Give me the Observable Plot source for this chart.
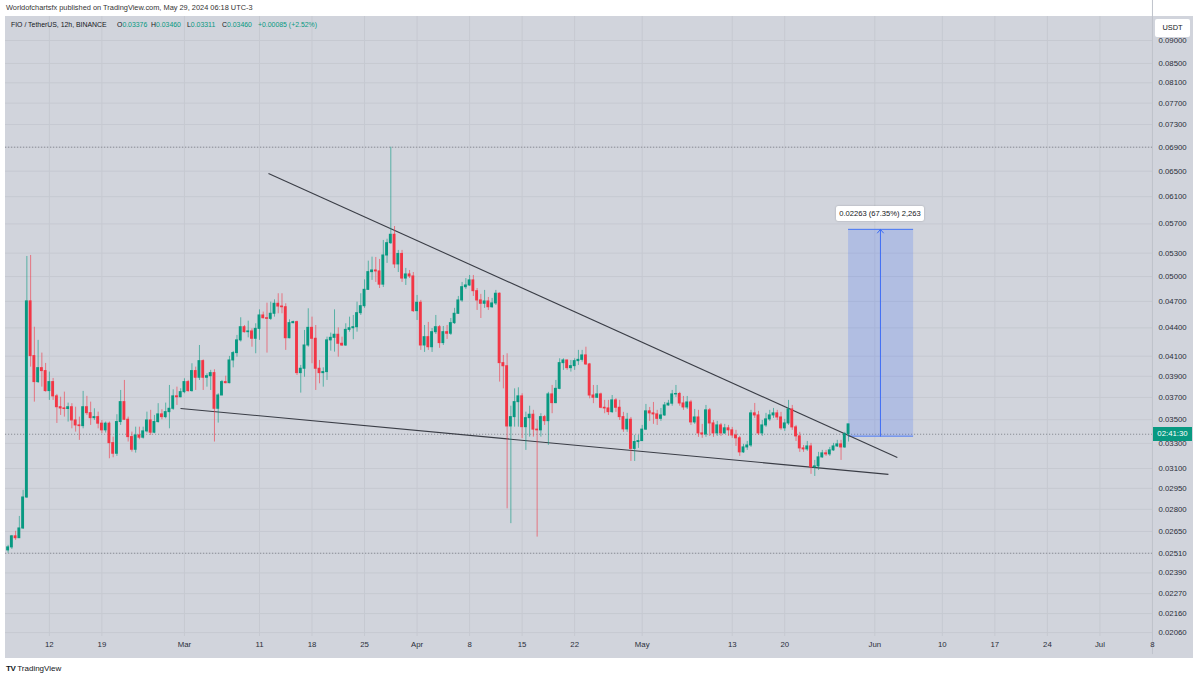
<!DOCTYPE html>
<html><head><meta charset="utf-8">
<script src="https://cdn.jsdelivr.net/npm/d3@7"></script>
<script src="https://cdn.jsdelivr.net/npm/@observablehq/plot@0.6"></script>
<style>
body{margin:0;background:#fff;font-family:"Liberation Sans",Arial,sans-serif;}
#page{position:relative;width:1200px;height:680px;overflow:hidden;background:#fff;}
#pub{position:absolute;left:6px;top:3px;font-size:7.4px;color:#333;white-space:nowrap;}
#chartwrap{position:absolute;left:5px;top:16px;width:1188px;height:642px;background:#d1d4dc;}
.lg{position:absolute;top:20.5px;font-size:6.9px;color:#131722;white-space:nowrap;}
.g{color:#089981}
#footer{position:absolute;left:6px;top:664px;font-size:8px;color:#131722;white-space:nowrap;}
#footer b{font-weight:900;letter-spacing:-0.5px;margin-right:2px;}
.ov{position:absolute;white-space:nowrap;box-sizing:border-box;text-align:center;}
</style></head><body><div id="page">
<div id="pub">Worldofchartsfx published on TradingView.com, May 29, 2024 06:18 UTC-3</div>
<div id="chartwrap"></div>
<div class="lg" style="left:11px">FIO / TetherUS, 12h, BINANCE</div>
<div class="lg" style="left:117px">O<span class="g">0.03376</span></div>
<div class="lg" style="left:151px">H<span class="g">0.03460</span></div>
<div class="lg" style="left:187px">L<span class="g">0.03311</span></div>
<div class="lg" style="left:222px">C<span class="g">0.03460</span></div>
<div class="lg g" style="left:258px">+0.00085 (+2.52%)</div>
<div id="footer"><b>TV</b>TradingView</div>
</div>
<script>
// ---- data ----
const firstBarUTC = "2024-02-07T00:00:00Z";   // 12h bars
const firstOpen = 0.02528;
const closes = [
0.02547,0.02618,0.02606,0.0267,0.02884,0.0470,0.04101,0.03844,0.0398,0.03951,
0.03759,0.03844,0.0371,0.03611,0.036,0.03595,0.03611,0.03494,0.03451,0.03445,
0.03611,0.03558,0.03514,0.03523,0.03466,0.03409,0.03466,0.03302,0.03216,0.0348,
0.03657,0.035,0.03352,0.03248,0.03366,0.03347,0.034,0.03494,0.03389,0.0348,
0.03547,0.03523,0.03567,0.03597,0.0371,0.03702,0.03749,0.03844,0.03759,0.03951,
0.03886,0.0405,0.03886,0.03901,0.03931,0.03597,0.03718,0.03844,0.03834,0.04057,
0.04132,0.04265,0.04407,0.04353,0.04361,0.04282,0.04389,0.04538,0.04507,0.045,
0.04557,0.04672,0.0464,0.04632,0.04288,0.04452,0.04463,0.03931,0.03974,0.04211,
0.044,0.04282,0.03974,0.03931,0.03941,0.04265,0.04292,0.04325,0.04229,0.04211,
0.04378,0.04396,0.04407,0.04564,0.04644,0.04837,0.05055,0.05076,0.05064,0.049,
0.05269,0.05433,0.05548,0.05153,0.05289,0.04975,0.05026,0.05001,0.04587,0.04684,
0.04211,0.04299,0.04193,0.04353,0.04407,0.04236,0.04353,0.04336,0.04452,0.04557,
0.04711,0.04869,0.0489,0.04952,0.04821,0.04711,0.04672,0.04699,0.04632,0.04676,
0.0479,0.0403,0.03999,0.03442,0.03523,0.03657,0.0371,0.03436,0.03514,0.03544,
0.03415,0.03409,0.03523,0.03488,0.03728,0.03648,0.0378,0.0403,0.04057,0.0398,
0.04,0.0405,0.04063,0.04108,0.04017,0.03718,0.03697,0.03728,0.03606,0.036,
0.03567,0.03673,0.03606,0.03523,0.03417,0.035,0.03255,0.03311,0.03319,0.03415,
0.03574,0.03556,0.03547,0.03508,0.03538,0.03627,0.03643,0.03728,0.03732,0.03645,
0.03609,0.03654,0.03477,0.0352,0.03383,0.03374,0.03583,0.03468,0.03383,0.03451,
0.03383,0.03426,0.03409,0.03366,0.03342,0.03227,0.03267,0.03283,0.03556,0.03538,
0.03383,0.03451,0.03503,0.03538,0.03556,0.0352,0.03426,0.03468,0.03591,0.03434,
0.03358,0.03259,0.03251,0.03275,0.03109,0.03116,0.03187,0.03219,0.03211,0.03243,
0.03275,0.03292,0.03267,0.03376,0.0346];
const highs = [
0.0256,0.02624,0.02651,0.02751,0.02936,0.05256,0.05269,0.04407,0.04265,0.04132,
0.04027,0.03941,0.03879,0.03728,0.03702,0.03749,0.03648,0.03643,0.03611,0.03523,
0.03756,0.0371,0.03657,0.03597,0.03567,0.03494,0.0348,0.0348,0.03352,0.03544,
0.03765,0.0386,0.03523,0.03394,0.03436,0.03436,0.03436,0.03567,0.03583,0.03538,
0.03643,0.03588,0.03648,0.03812,0.03771,0.03796,0.03781,0.03876,0.0386,0.04024,
0.0399,0.04211,0.04063,0.03925,0.03958,0.03964,0.03734,0.0386,0.03901,0.04098,
0.04149,0.04318,0.04512,0.04426,0.04474,0.04389,0.04445,0.04602,0.04576,0.04679,
0.04691,0.04718,0.0479,0.0479,0.04672,0.04489,0.04474,0.04474,0.04007,0.04372,
0.04614,0.04519,0.04426,0.04057,0.03983,0.04299,0.04343,0.04602,0.044,0.04299,
0.04445,0.04519,0.04538,0.04691,0.0479,0.04959,0.05195,0.05247,0.05243,0.05217,
0.0547,0.05487,0.0690,0.05663,0.05336,0.05336,0.05102,0.05076,0.0505,0.0477,
0.04711,0.04426,0.0446,0.04393,0.04538,0.04426,0.04415,0.04426,0.04504,0.04619,
0.04758,0.04927,0.04975,0.05013,0.05013,0.04853,0.04782,0.0483,0.04746,0.04735,
0.0483,0.0480,0.04108,0.04125,0.0362,0.0378,0.0379,0.03734,0.03567,0.0362,
0.03583,0.03494,0.03553,0.03538,0.03747,0.03812,0.0386,0.04074,0.04074,0.04057,
0.04057,0.04074,0.0416,0.0416,0.04193,0.04027,0.03812,0.03812,0.0374,0.03673,
0.03673,0.03718,0.0369,0.03673,0.03565,0.03556,0.0352,0.03366,0.03366,0.03451,
0.03636,0.03609,0.03654,0.03583,0.036,0.03654,0.03673,0.03765,0.03812,0.03747,
0.03709,0.03709,0.03673,0.03591,0.03583,0.0346,0.03627,0.036,0.03494,0.03486,
0.03468,0.0346,0.03451,0.03434,0.03409,0.03358,0.03292,0.03316,0.03583,0.03645,
0.03574,0.03494,0.03556,0.03583,0.036,0.03583,0.03565,0.03503,0.03673,0.03627,
0.03451,0.03392,0.03283,0.03316,0.033,0.03163,0.03227,0.03243,0.03243,0.03267,
0.033,0.03325,0.03325,0.03392,0.0346];
const lows = [
0.0251,0.02534,0.02592,0.02604,0.02663,0.02877,0.0399,0.03657,0.03831,0.03796,
0.03749,0.03673,0.03673,0.03468,0.03538,0.03523,0.0348,0.03422,0.03394,0.03325,
0.03422,0.03538,0.03451,0.03494,0.03422,0.0338,0.03386,0.03176,0.03184,0.03195,
0.03451,0.03494,0.03311,0.03229,0.03221,0.0333,0.03335,0.03386,0.03366,0.0338,
0.03471,0.035,0.03508,0.03422,0.03583,0.03627,0.03697,0.03734,0.03749,0.03749,
0.03765,0.0386,0.03765,0.03796,0.03765,0.03311,0.03471,0.03718,0.03828,0.03828,
0.03983,0.0409,0.04247,0.04343,0.04292,0.04193,0.04125,0.04265,0.045,0.04132,
0.04482,0.04519,0.04557,0.04557,0.0416,0.04282,0.04445,0.03908,0.0374,0.03891,
0.04193,0.04024,0.03765,0.03828,0.03796,0.0386,0.04152,0.04142,0.0409,0.04201,
0.04201,0.04353,0.04272,0.04353,0.04538,0.04619,0.0483,0.04952,0.04927,0.04853,
0.04865,0.05166,0.05416,0.05102,0.0505,0.04927,0.0489,0.04975,0.04572,0.04482,
0.0416,0.04139,0.0416,0.04139,0.04328,0.04181,0.04211,0.04275,0.04318,0.04437,
0.04549,0.04688,0.04842,0.04878,0.04758,0.04595,0.04504,0.04619,0.04595,0.04619,
0.04652,0.03844,0.0378,0.02804,0.02702,0.03436,0.03436,0.03339,0.03243,0.03352,
0.03352,0.02613,0.03352,0.03451,0.03284,0.03553,0.03643,0.03772,0.03958,0.03958,
0.03941,0.03958,0.04007,0.0404,0.04007,0.03687,0.03643,0.0369,0.03597,0.03553,
0.03538,0.03556,0.03565,0.03494,0.03392,0.03392,0.03155,0.03155,0.03259,0.03325,
0.03409,0.03486,0.0346,0.03451,0.03486,0.03529,0.0362,0.0362,0.037,0.0362,
0.03583,0.03591,0.03451,0.0346,0.0335,0.03342,0.0335,0.03358,0.0335,0.03358,
0.03358,0.03375,0.03358,0.03342,0.03275,0.03195,0.03219,0.03243,0.03267,0.03512,
0.03366,0.03358,0.03434,0.03486,0.03512,0.03494,0.03409,0.034,0.03451,0.03409,
0.03316,0.03227,0.03227,0.03235,0.03055,0.03039,0.03086,0.03179,0.03195,0.03195,
0.03235,0.03267,0.03163,0.03259,0.03311];

const priceTicks = [0.09,0.085,0.081,0.077,0.073,0.069,0.065,0.061,0.057,0.053,0.05,0.047,0.044,0.041,0.039,0.037,0.035,0.033,0.031,0.0295,0.028,0.0265,0.0251,0.0239,0.0227,0.0216,0.0206];
const timeTickDays = ["2024-02-12","2024-02-19","2024-03-01","2024-03-11","2024-03-18","2024-03-25","2024-04-01","2024-04-08","2024-04-15","2024-04-22","2024-05-01","2024-05-13","2024-05-20","2024-06-01","2024-06-10","2024-06-17","2024-06-24","2024-07-01","2024-07-08"];
const timeTickLabels = ["12","19","Mar","11","18","25","Apr","8","15","22","May","13","20","Jun","10","17","24","Jul","8"];
const levelLines = [0.069, 0.0251, 0.03376];           // dotted horizontal lines
const trendLines = [
  {t1:"2024-03-12T16:48:00Z", p1:0.06463, t2:"2024-06-04T12:00:00Z", p2:0.03186},
  {t1:"2024-02-29T23:20:00Z", p1:0.03600, t2:"2024-06-03T07:30:00Z", p2:0.03055}
];
const measure = {t1:"2024-05-29T00:00:00Z", t2:"2024-06-06T16:00:00Z", tMid:"2024-06-02T06:00:00Z", from:0.03360, to:0.05623, label:"0.02263 (67.35%) 2,263"};
const countdown = {price:0.03376, label:"02:41:30"};

// ---- build ----
const HALF = 12*3600*1000;
const t0 = new Date(firstBarUTC).getTime();
const bars = closes.map((c,i)=>{
  const o = i===0 ? firstOpen : closes[i-1];
  return {date:new Date(t0+i*HALF), open:o, close:c, high:Math.max(highs[i],o,c), low:Math.min(lows[i],o,c)};
});
const GREEN="#089981", RED="#f23645";
const col = d => d.close >= d.open ? GREEN : RED;
const tickDates = timeTickDays.map(d=>new Date(d+"T12:00:00Z"));
const labelOf = new Map(tickDates.map((d,i)=>[+d, timeTickLabels[i]]));
const tl = trendLines.map(l=>({x1:new Date(l.t1), y1:l.p1, x2:new Date(l.t2), y2:l.p2}));
const m = {x1:new Date(measure.t1), x2:new Date(measure.t2), xm:new Date(measure.tMid), y1:measure.from, y2:measure.to};
const BW = 4.6*3600*1000;

const chart = Plot.plot({
  width:1188, height:642,
  marginLeft:0, marginRight:41, marginTop:0, marginBottom:22,
  style:{background:"transparent", fontFamily:"Liberation Sans, Arial, sans-serif", fontSize:"7.8px", color:"#2a2e39", overflow:"visible"},
  x:{type:"utc", domain:[new Date(t0), new Date(t0+305*HALF)], range:[2.6, 2.6+305*3.752]},
  y:{type:"log", domain:[0.020401, 0.095542], range:[620, 0]},
  marks:[
    Plot.ruleY(priceTicks, {stroke:"#c6c9d1", strokeWidth:1}),
    Plot.ruleX(tickDates, {stroke:"#c6c9d1", strokeWidth:1}),
    Plot.ruleY(levelLines, {stroke:"#8a8d96", strokeWidth:1, strokeDasharray:"1.2,1.8"}),
    Plot.rect([m], {x1:"x1", x2:"x2", y1:"y1", y2:"y2", fill:"#2962ff", fillOpacity:0.19}),
    Plot.ruleY([m], {x1:"x1", x2:"x2", y:"y1", stroke:"#4a78f5", strokeWidth:1}),
    Plot.ruleY([m], {x1:"x1", x2:"x2", y:"y2", stroke:"#4a78f5", strokeWidth:1}),
    Plot.arrow([m], {x1:"xm", x2:"xm", y1:"y1", y2:"y2", stroke:"#3d6df5", strokeWidth:1, headLength:7, headAngle:80}),
    Plot.link(tl, {x1:"x1", y1:"y1", x2:"x2", y2:"y2", stroke:"#3a3d46", strokeWidth:1.1}),
    Plot.ruleX(bars, {x:"date", y1:"low", y2:"high", stroke:col, strokeOpacity:0.6, strokeWidth:1}),
    Plot.rect(bars, {x1:d=>new Date(+d.date-BW), x2:d=>new Date(+d.date+BW), y1:"open", y2:"close", fill:col, insetTop:-0.5, insetBottom:-0.5}),
    Plot.ruleX([new Date(t0+305*HALF)], {stroke:"#bfc3cb", y1:0.0195, y2:0.1, clip:false}),
    Plot.axisY({ticks:priceTicks, anchor:"right", tickSize:0, tickPadding:6, tickFormat:d=>d.toFixed(5)}),
    Plot.axisX({ticks:tickDates, tickSize:0, tickPadding:5, tickFormat:d=>labelOf.get(+d)})
  ]
});
document.getElementById("chartwrap").appendChild(chart);

// overlays positioned through the chart scales
const sx = chart.scale("x"), sy = chart.scale("y");
const OX=5, OY=16;
const page = document.getElementById("page");
function ov(html, css){ const d=document.createElement("div"); d.className="ov"; d.innerHTML=html; Object.assign(d.style, css); page.appendChild(d); return d; }
// measurement label
const mx = OX + sx.apply(m.xm), my = OY + sy.apply(m.y2);
ov(measure.label, {left:(mx-44)+"px", top:(my-23)+"px", width:"88px", height:"15px", lineHeight:"15px", background:"#fff", borderRadius:"2px", boxShadow:"0 0 2px rgba(0,0,0,0.25)", fontSize:"7.6px", color:"#131722"});
// countdown label
const cy = OY + sy.apply(countdown.price);
ov(countdown.label, {left:"1153px", top:(cy-7)+"px", width:"39px", height:"14px", lineHeight:"14px", background:GREEN, color:"#fff", fontSize:"7.8px"});
// currency box
ov("USDT", {left:"1155px", top:"19px", width:"35px", height:"18px", lineHeight:"17px", background:"#fff", borderRadius:"2px", fontSize:"7.4px", color:"#131722"});
</script>
</body></html>
